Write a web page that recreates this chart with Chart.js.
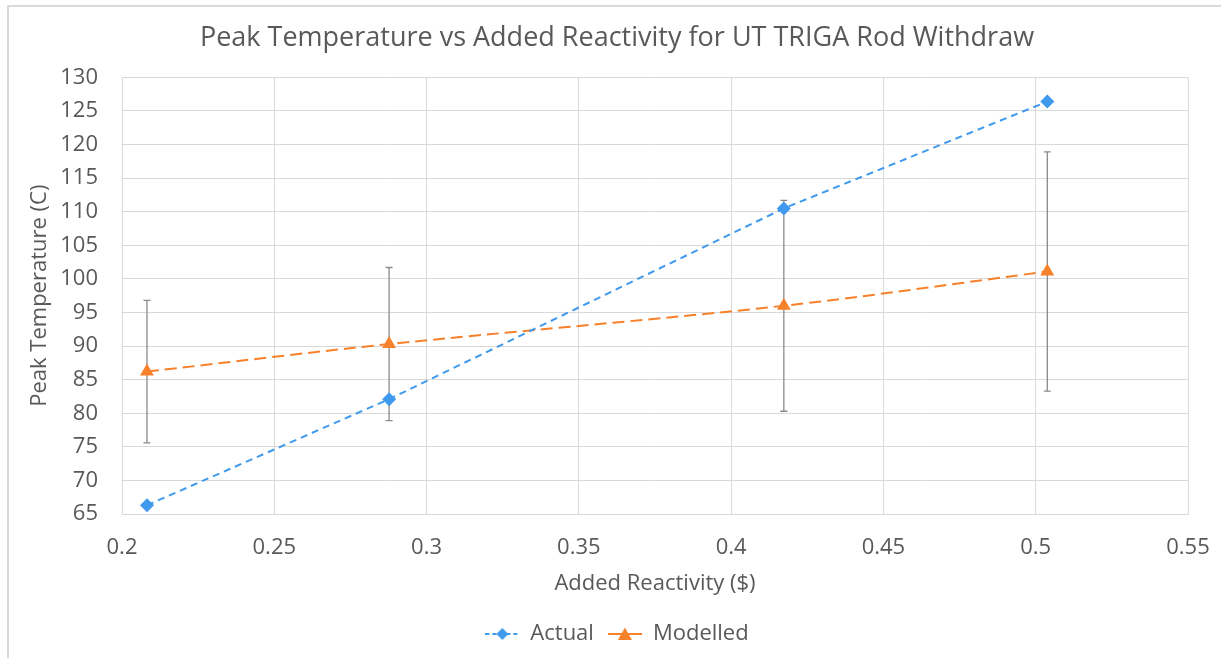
<!DOCTYPE html>
<html>
<head>
<meta charset="utf-8">
<script src="https://cdn.jsdelivr.net/npm/chart.js@4/dist/chart.umd.min.js"></script>
<style>
  html, body { margin: 0; padding: 0; background: #fff; }
  #wrap { position: relative; width: 1221px; height: 658px; overflow: hidden; }
  #frame { position: absolute; left: 7px; top: 5px; width: 1300px; height: 700px;
           border-left: 2px solid #d9d9d9; border-top: 2px solid #d9d9d9; }
  canvas { position: absolute; left: 0; top: 0; }
</style>
</head>
<body>
<div id="wrap">
  <div id="frame"></div>
  <canvas id="chart" width="1221" height="658"></canvas>
</div>
<script>
// reactivity ($) for each rod withdrawal
const reactivity = [0.2082, 0.2877, 0.4173, 0.5038];
// measured peak fuel temperature (C)
const actualTemp = [66.3, 82.1, 110.5, 126.4];
// model prediction and its uncertainty (+/-)
const modelTemp = [86.2, 90.3, 96.0, 101.1];
const modelErr = [10.6, 11.4, 15.7, 17.8];

const xTicks = [0.2, 0.25, 0.3, 0.35, 0.4, 0.45, 0.5, 0.55];

const BLUE = '#3f99ec';
const ORANGE = '#f7802b';
const TEXT = '#595959';
const GRID = '#d9d9d9';
const FONT = '"Open Sans", sans-serif';

// small line+marker swatch for the legend
function swatch(color, dash, marker) {
  const c = document.createElement('canvas');
  c.width = 34; c.height = 16;
  const g = c.getContext('2d');
  g.strokeStyle = color;
  g.lineWidth = 2;
  g.setLineDash(dash);
  g.beginPath(); g.moveTo(0, 8); g.lineTo(34, 8); g.stroke();
  g.fillStyle = color;
  g.beginPath();
  if (marker === 'diamond') {
    g.moveTo(17, 2); g.lineTo(23, 8); g.lineTo(17, 14); g.lineTo(11, 8);
  } else {
    g.moveTo(17, 1.5); g.lineTo(24, 14); g.lineTo(10, 14);
  }
  g.closePath(); g.fill();
  return c;
}

const errorBars = {
  id: 'errorBars',
  beforeDatasetsDraw(chart) {
    const { ctx, scales: { x, y } } = chart;
    ctx.save();
    ctx.strokeStyle = '#8a8a8a';
    ctx.lineWidth = 1.3;
    reactivity.forEach((r, i) => {
      const px = x.getPixelForValue(r);
      const top = y.getPixelForValue(modelTemp[i] + modelErr[i]);
      const bot = y.getPixelForValue(modelTemp[i] - modelErr[i]);
      ctx.beginPath();
      ctx.moveTo(px, top); ctx.lineTo(px, bot);
      ctx.moveTo(px - 3.5, top); ctx.lineTo(px + 3.5, top);
      ctx.moveTo(px - 3.5, bot); ctx.lineTo(px + 3.5, bot);
      ctx.stroke();
    });
    ctx.restore();
  }
};

const legendImgs = [swatch(BLUE, [4, 3], 'diamond'), swatch(ORANGE, [], 'triangle')];

new Chart(document.getElementById('chart'), {
  type: 'scatter',
  data: {
    datasets: [
      {
        label: 'Actual',
        data: reactivity.map((r, i) => ({ x: r, y: actualTemp[i] })),
        showLine: true,
        borderColor: BLUE,
        backgroundColor: BLUE,
        borderWidth: 2,
        borderDash: [7, 5],
        pointStyle: 'rectRot',
        pointRadius: 7,
        pointBorderWidth: 0,
        tension: 0
      },
      {
        label: 'Modelled',
        data: reactivity.map((r, i) => ({ x: r, y: modelTemp[i] })),
        showLine: true,
        borderColor: ORANGE,
        backgroundColor: ORANGE,
        borderWidth: 2,
        borderDash: [12, 6],
        pointStyle: 'triangle',
        pointRadius: 8,
        pointBorderWidth: 0,
        tension: 0.3
      }
    ]
  },
  options: {
    responsive: false,
    animation: false,
    layout: { padding: { left: 23, right: 10, top: 0, bottom: 3 } },
    plugins: {
      title: {
        display: true,
        text: 'Peak Temperature vs Added Reactivity for UT TRIGA Rod Withdraw',
        color: TEXT,
        font: { family: FONT, size: 27, weight: 'normal', lineHeight: 1.2 },
        padding: { top: 22, bottom: 23 }
      },
      legend: {
        position: 'bottom',
        labels: {
          usePointStyle: true,
          pointStyleWidth: 34,
          color: TEXT,
          font: { family: FONT, size: 22 },
          padding: 14,
          generateLabels(chart) {
            return chart.data.datasets.map((ds, i) => ({
              text: ds.label,
              pointStyle: legendImgs[i],
              fillStyle: ds.backgroundColor,
              strokeStyle: ds.borderColor,
              lineWidth: 0,
              fontColor: TEXT,
              datasetIndex: i,
              hidden: false
            }));
          }
        }
      },
      tooltip: { enabled: false }
    },
    scales: {
      x: {
        type: 'linear',
        min: 0.2,
        max: 0.55,
        afterBuildTicks(scale) { scale.ticks = xTicks.map(v => ({ value: v })); },
        afterFit(scale) {
          scale.height = 95;
          scale.paddingLeft = 0;
          scale.paddingRight = 33;
        },
        grid: { color: GRID, drawTicks: false },
        border: { color: GRID },
        ticks: {
          color: TEXT,
          font: { family: FONT, size: 22 },
          padding: 21,
          maxRotation: 0,
          callback: v => String(+v.toFixed(2))
        },
        title: {
          display: true,
          text: 'Added Reactivity ($)',
          color: TEXT,
          font: { family: FONT, size: 22 },
          padding: { top: 0, bottom: 12 }
        }
      },
      y: {
        min: 65,
        max: 130,
        afterFit(scale) { scale.width = 99; },
        grid: { color: GRID, drawTicks: false },
        border: { color: GRID },
        ticks: {
          stepSize: 5,
          color: TEXT,
          font: { family: FONT, size: 22 },
          padding: 24
        },
        title: {
          display: true,
          text: 'Peak Temperature (C)',
          color: TEXT,
          font: { family: FONT, size: 22, lineHeight: 1.2 },
          padding: { top: 4, bottom: 0 }
        }
      }
    }
  },
  plugins: [errorBars]
});
</script>
</body>
</html>
